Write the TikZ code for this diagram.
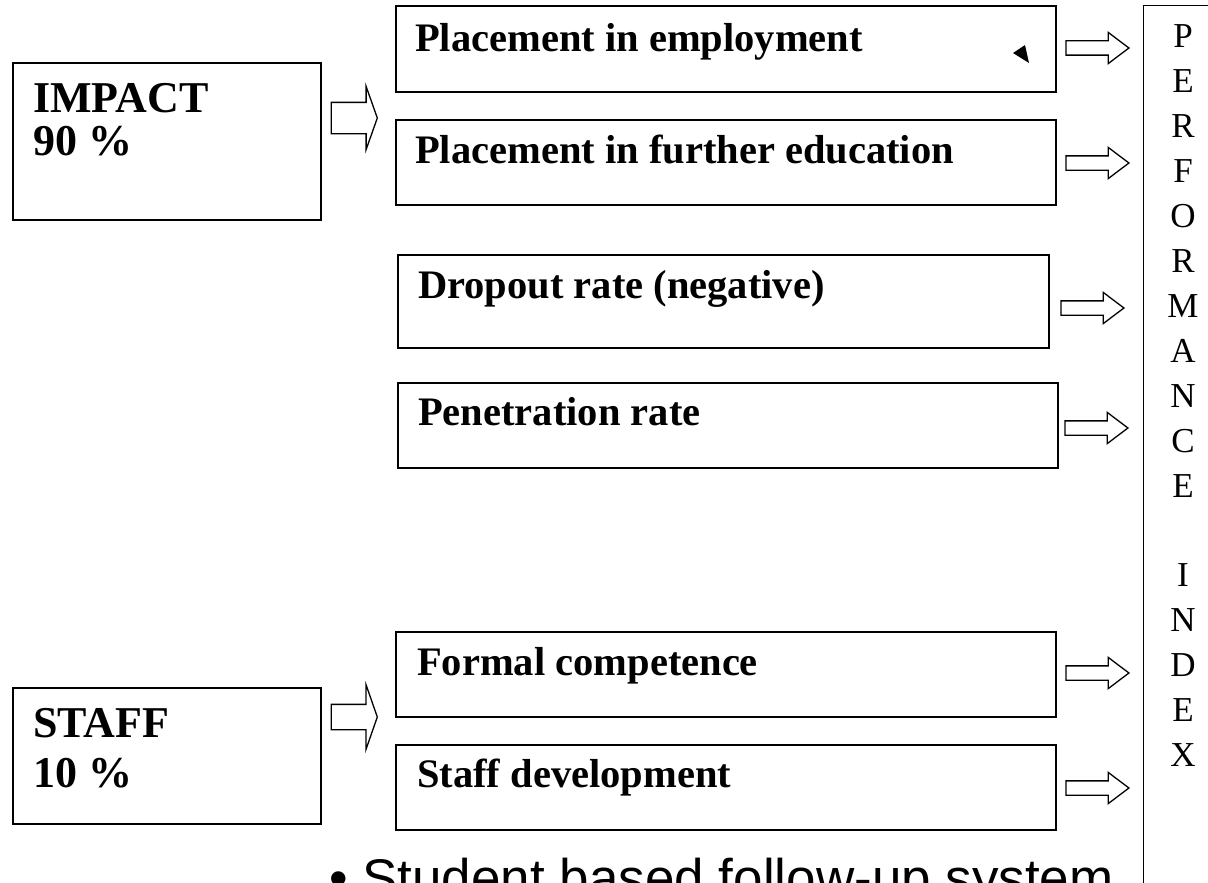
\documentclass[tikz,border=0pt]{standalone}
\usepackage{fontspec}
\setmainfont{Liberation Serif}
\newfontfamily\arialfont{Liberation Sans}
\usetikzlibrary{shapes.arrows}
\begin{document}
\begin{tikzpicture}[x=1pt,y=-1pt,
  box/.style={draw, line width=1.7pt, rectangle, anchor=north west, inner sep=0pt},
  lbl/.style={anchor=base west, inner sep=0pt, font=\bfseries\fontsize{40.5}{47}\selectfont},
  headlbl/.style={anchor=base west, inner sep=0pt, font=\bfseries\fontsize{44}{50}\selectfont},
  bigarrow/.style={draw, line width=1.3pt, single arrow, anchor=tip, inner xsep=0pt, minimum width=0pt, minimum height=46pt},
  smallarrow/.style={draw, line width=1.3pt, single arrow, anchor=tip, inner xsep=0pt, inner ysep=6.5pt, single arrow head extend=8.5pt, minimum height=63pt, minimum width=0pt, single arrow tip angle=74},
  letter/.style={anchor=base, inner sep=0pt, font=\fontsize{35}{40}\selectfont}]
\useasboundingbox (0,0) rectangle (1208,883);
\clip (0,0) rectangle (1208,883);
\fill[white] (0,0) rectangle (1208,883);

% left boxes
\node[box, minimum width=308pt, minimum height=157pt] (impact) at (12,62) {};
\node[headlbl] (impactT) at (33,112) {IMPACT};
\node[headlbl] (impactP) at (33,155) {90 \%};
\node[box, minimum width=308pt, minimum height=136pt] (staff) at (12,687) {};
\node[headlbl] (staffT) at (33,737) {STAFF};
\node[headlbl] (staffP) at (33,787) {10 \%};

% big arrows
\node[bigarrow, inner ysep=15pt, single arrow head extend=16pt, single arrow tip angle=141] (aimp) at (378,118) {};
\node[bigarrow, inner ysep=12pt, single arrow head extend=19.5pt, single arrow tip angle=141.5] (astaff) at (378,717) {};

% middle boxes
\node[box, minimum width=660pt, minimum height=86pt] (b1) at (395,5) {};
\node[lbl] (t1) at (415,52) {Placement in employment};
\fill (1013,53) -- (1025,45) -- (1029,63) -- cycle;
\node[box, minimum width=660pt, minimum height=85pt] (b2) at (395,119) {};
\node[lbl] (t2) at (415,163) {Placement in further education};
\node[box, minimum width=651pt, minimum height=93pt] (b3) at (397,254) {};
\node[lbl] (t3) at (418,298) {Dropout rate (negative)};
\node[box, minimum width=660pt, minimum height=85pt] (b4) at (397,382) {};
\node[lbl] (t4) at (418,425) {Penetration rate};
\node[box, minimum width=660pt, minimum height=85pt] (b5) at (395,631) {};
\node[lbl] (t5) at (417,675) {Formal competence};
\node[box, minimum width=660pt, minimum height=85pt] (b6) at (395,744) {};
\node[lbl] (t6) at (417,787) {Staff development};

% small arrows
\node[smallarrow] (s1) at (1130,48) {};
\node[smallarrow] (s2) at (1130,163) {};
\node[smallarrow] (s3) at (1125,308) {};
\node[smallarrow] (s4) at (1129,428) {};
\node[smallarrow] (s5) at (1130,673) {};
\node[smallarrow] (s6) at (1130,788) {};

% performance index box
\node[draw, line width=1.2pt, rectangle, anchor=north west, inner sep=0pt, minimum width=120pt, minimum height=950pt] (perf) at (1143,5) {};
\foreach \ch [count=\i] in {P,E,R,F,O,R,M,A,N,C,E,{},I,N,D,E,X}
  \node[letter] (L\i) at (1183,{48+(\i-1)*44.9}) {\ch};

% bottom bullet text (cut off at the lower edge, as in the reference)
\node[anchor=base west, inner sep=0pt, font=\arialfont\fontsize{53}{60}\selectfont] (bul) at (329,896) {• Student based follow-up system};
\end{tikzpicture}
\end{document}
